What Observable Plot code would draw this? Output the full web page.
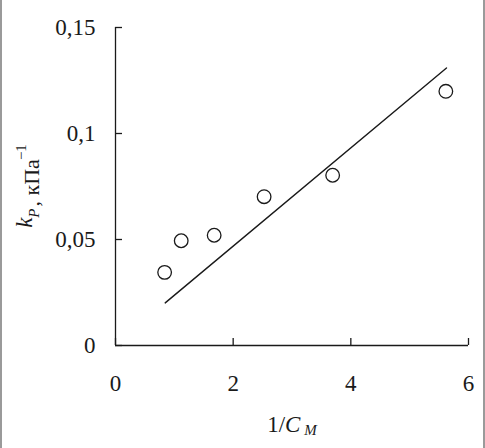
<!DOCTYPE html>
<html>
<head>
<meta charset="utf-8">
<script src="https://cdn.jsdelivr.net/npm/d3@7"></script>
<script src="https://cdn.jsdelivr.net/npm/@observablehq/plot@0.6"></script>
<style>
  body { margin: 0; background: #fff; }
  #wrap { position: relative; width: 485px; height: 448px; }
  #border { position: absolute; left: 0; top: 0; width: 485px; height: 448px; box-sizing: border-box;
            border-left: 2px solid #9a9a9a; border-right: 2px solid #9a9a9a; pointer-events: none; }
</style>
</head>
<body>
<div id="wrap"><div id="border"></div></div>
<script>
// Observations
const invCM = [0.835, 1.117, 1.677, 2.526, 3.691, 5.615];
const kP    = [0.0345, 0.0494, 0.0520, 0.0702, 0.0803, 0.1199];
// Fitted straight line (end points)
const fitX  = [0.845, 5.626];
const fitY  = [0.0201, 0.1309];
// Tick values
const xTicks = [0, 2, 4, 6];
const yTicks = [0, 0.05, 0.1, 0.15];

const points = invCM.map((x, i) => ({x, y: kP[i]}));
const fit = fitX.map((x, i) => ({x, y: fitY[i]}));

const ink = "#1a1a1a";
const chart = Plot.plot({
  width: 485,
  height: 448,
  marginLeft: 115,
  marginRight: 17,
  marginTop: 27,
  marginBottom: 103,
  style: {fontFamily: "'Liberation Serif', 'DejaVu Serif', serif", fontSize: "23px", background: "white", color: ink},
  x: {domain: [0, 6]},
  y: {domain: [0, 0.15]},
  marks: [
    Plot.axisX({ticks: xTicks, tickSize: -7, tickPadding: 36, tickFormat: d => String(d), label: null, strokeWidth: 1.3, fontSize: 23}),
    Plot.axisY({ticks: yTicks, tickSize: -7, tickPadding: 27, tickFormat: d => String(d).replace(".", ","), label: null, strokeWidth: 1.3, fontSize: 23}),
    Plot.ruleX([0], {stroke: ink, strokeWidth: 1.3}),
    Plot.ruleY([0], {stroke: ink, strokeWidth: 1.3}),
    Plot.line(fit, {x: "x", y: "y", stroke: ink, strokeWidth: 1.4}),
    Plot.dot(points, {x: "x", y: "y", r: 6.8, stroke: ink, fill: "white", strokeWidth: 1.3}),
    Plot.text(["1/CM"], {frameAnchor: "bottom", dy: 86, fontSize: 23, fill: ink}),
    Plot.text(["kP, кПа-1"], {frameAnchor: "left", dx: -77, lineAnchor: "bottom", rotate: -90, fontSize: 22, fill: ink})
  ]
});
document.getElementById("wrap").prepend(chart);

// rich text for axis labels (italics, subscripts, superscript)
const svg = d3.select(chart);
const texts = svg.selectAll("text").filter(function() { return this.textContent === "1/CM" || this.textContent === "kP, кПа-1"; });
texts.each(function() {
  const t = d3.select(this);
  const s = this.textContent;
  t.text(null);
  if (s === "1/CM") {
    t.append("tspan").text("1/");
    t.append("tspan").attr("font-style", "italic").text("C");
    t.append("tspan").attr("font-style", "italic").attr("font-size", 15).attr("dx", 4).attr("dy", 3).text("M");
  } else {
    t.append("tspan").attr("font-style", "italic").attr("font-size", 23).attr("dy", -7).text("k");
    t.append("tspan").attr("font-style", "italic").attr("font-size", 15).attr("dy", 7).text("P");
    t.append("tspan").attr("dx", 2).text(", кПа");
    t.append("tspan").attr("font-size", 15).attr("dx", -1).attr("dy", -13).text("−1");
    // centre the rotated label along the y axis of the frame
    const r = this.getBoundingClientRect();
    const c = chart.getBoundingClientRect();
    const cy = r.top - c.top + r.height / 2;
    const target = 186;
    const tr = this.getAttribute("transform") || "";
    this.setAttribute("transform", `translate(0,${target - cy}) ` + tr);
  }
});
</script>
</body>
</html>
